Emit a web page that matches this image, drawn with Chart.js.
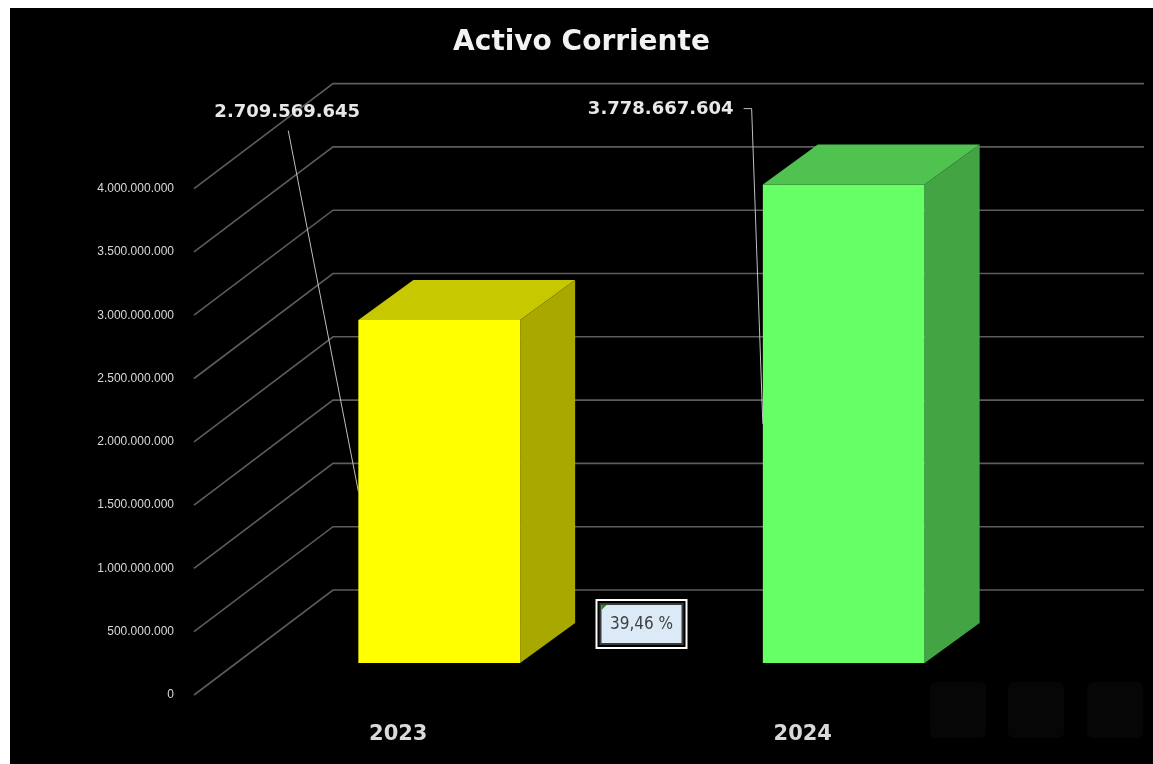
<!DOCTYPE html>
<html>
<head>
<meta charset="utf-8">
<script src="https://cdn.jsdelivr.net/npm/chart.js@4.4.1/dist/chart.umd.min.js"></script>
<style>
  html, body { margin: 0; padding: 0; background: #fff; }
  #wrap { position: absolute; left: 10px; top: 8px; width: 1143px; height: 756px; background: #000; }
</style>
</head>
<body>
<div id="wrap"><canvas id="activoChart"></canvas></div>
<script>
// data
const years = ['2023', '2024'];
const activoCorriente = [2709569645, 3778667604];
const yTicks = [0, 500000000, 1000000000, 1500000000, 2000000000, 2500000000, 3000000000, 3500000000, 4000000000];

const frontColors = ['#ffff00', '#66ff66'];
const topColors = ['#c8c800', '#50c250'];
const sideColors = ['#a8a800', '#43a443'];

const fmt = v => new Intl.NumberFormat('de-DE').format(v);
const growth = (activoCorriente[1] / activoCorriente[0] - 1) * 100;
const growthText = growth.toFixed(2).replace('.', ',') + ' %';

// 3d look
const DEPTH_X = 55, DEPTH_Y = -40;       // bar depth
const FRONT_DY = 32, BACK_DY = -73;      // grid planes vs bar plane
const labelOffsets = [{dx: -152, dy: -44}, {dx: -183, dy: -47}];

const threeD = {
  id: 'threeD',
  beforeDatasetsDraw(chart) {
    const {ctx, chartArea, scales: {y}} = chart;
    const fx = chartArea.left - 43, bx = chartArea.left + 96;
    ctx.save();
    ctx.strokeStyle = '#5c5c5c';
    ctx.lineWidth = 1.6;
    yTicks.forEach(v => {
      const py = y.getPixelForValue(v);
      ctx.beginPath();
      ctx.moveTo(fx, py + FRONT_DY);
      ctx.lineTo(bx, py + BACK_DY);
      ctx.lineTo(chartArea.right + 98, py + BACK_DY);
      ctx.stroke();
    });
    ctx.restore();
  },
  afterDatasetsDraw(chart) {
    const {ctx, chartArea, scales: {y}} = chart;
    const bars = chart.getDatasetMeta(0).data;
    ctx.save();
    bars.forEach((b, i) => {
      const l = b.x - b.width / 2, r = b.x + b.width / 2;
      // top face
      ctx.fillStyle = topColors[i];
      ctx.beginPath();
      ctx.moveTo(l, b.y);
      ctx.lineTo(l + DEPTH_X, b.y + DEPTH_Y);
      ctx.lineTo(r + DEPTH_X, b.y + DEPTH_Y);
      ctx.lineTo(r, b.y);
      ctx.closePath();
      ctx.fill();
      // side face
      ctx.fillStyle = sideColors[i];
      ctx.beginPath();
      ctx.moveTo(r, b.y);
      ctx.lineTo(r + DEPTH_X, b.y + DEPTH_Y);
      ctx.lineTo(r + DEPTH_X, b.base + DEPTH_Y);
      ctx.lineTo(r, b.base);
      ctx.closePath();
      ctx.fill();
    });

    // data labels + leader lines
    ctx.font = 'bold 18px "DejaVu Sans"';
    ctx.textAlign = 'center';
    ctx.textBaseline = 'middle';
    bars.forEach((b, i) => {
      const txt = fmt(activoCorriente[i]);
      const cx = b.x + labelOffsets[i].dx, cy = chartArea.top + labelOffsets[i].dy;
      ctx.fillStyle = '#e8e8e8';
      ctx.fillText(txt, cx, cy);
      const l = b.x - b.width / 2, mid = (b.y + b.base) / 2;
      ctx.strokeStyle = '#bfbfbf';
      ctx.lineWidth = 1;
      ctx.beginPath();
      if (i === 0) {
        ctx.moveTo(cx + 1, cy + 18);
      } else {
        const w = ctx.measureText(txt).width;
        ctx.moveTo(cx + w / 2 + 10, cy - 1);
        ctx.lineTo(cx + w / 2 + 18, cy - 1);
      }
      ctx.lineTo(l, mid);
      ctx.stroke();
    });

    // growth box
    const mx = (bars[0].x + bars[1].x) / 2, my = y.getPixelForValue(0) - 39;
    ctx.strokeStyle = '#ffffff';
    ctx.lineWidth = 2;
    ctx.strokeRect(mx - 45, my - 24, 90, 48);
    ctx.fillStyle = '#dce9f6';
    ctx.fillRect(mx - 41, my - 20, 82, 40);
    ctx.strokeStyle = '#3a3a3a';
    ctx.lineWidth = 2;
    ctx.strokeRect(mx - 41, my - 20, 82, 40);
    ctx.fillStyle = '#1f8f1f';
    ctx.beginPath();
    ctx.moveTo(mx - 40, my - 19);
    ctx.lineTo(mx - 35, my - 19);
    ctx.lineTo(mx - 40, my - 14);
    ctx.fill();
    ctx.fillStyle = '#404040';
    ctx.font = '17px "DejaVu Sans Condensed", "DejaVu Sans"';
    ctx.fillText(growthText, mx, my + 1);
    ctx.restore();
  },
  afterDraw(chart) {
    // ghost buttons bottom right
    const ctx = chart.ctx;
    ctx.save();
    ctx.fillStyle = '#060606';
    [920, 998, 1077].forEach(x => {
      ctx.beginPath();
      ctx.roundRect(x, 674, 56, 56, 6);
      ctx.fill();
    });
    ctx.restore();
  }
};

const data = {
  labels: years,
  datasets: [{
    label: 'Activo Corriente',
    data: activoCorriente,
    backgroundColor: frontColors,
    borderWidth: 0,
    barPercentage: 0.4,
    categoryPercentage: 1
  }]
};

const config = {
  type: 'bar',
  data: data,
  options: {
    responsive: true,
    maintainAspectRatio: false,
    animation: false,
    layout: { padding: 0 },
    plugins: {
      legend: { display: false },
      tooltip: { enabled: false },
      title: {
        display: true,
        text: 'Activo Corriente',
        color: '#f2f2f2',
        font: { family: 'DejaVu Sans', size: 28, weight: 'bold' },
        padding: { top: 18, bottom: 97 }
      }
    },
    scales: {
      x: {
        grid: { display: false },
        border: { display: false },
        ticks: {
          color: '#d9d9d9',
          font: { family: 'DejaVu Sans', size: 21, weight: 'bold' },
          padding: 51,
          labelOffset: -41
        },
        afterFit: s => { s.height = 101; }
      },
      y: {
        min: 0,
        max: 4000000000,
        grid: { display: false, drawTicks: false },
        border: { display: false },
        ticks: {
          stepSize: 500000000,
          color: '#d9d9d9',
          font: { family: '"Liberation Sans", Arial', size: 12 },
          padding: 63,
          labelOffset: FRONT_DY,
          callback: v => fmt(v)
        },
        afterFit: s => { s.width = 227; }
      },
      // empty right axis, only keeps space for the 3d depth on the right
      yRight: {
        position: 'right',
        grid: { display: false },
        border: { display: false },
        ticks: { display: false },
        afterFit: s => { s.width = 107; }
      }
    }
  },
  plugins: [threeD]
};

const activo = new Chart(document.getElementById('activoChart').getContext('2d'), config);
</script>
</body>
</html>
